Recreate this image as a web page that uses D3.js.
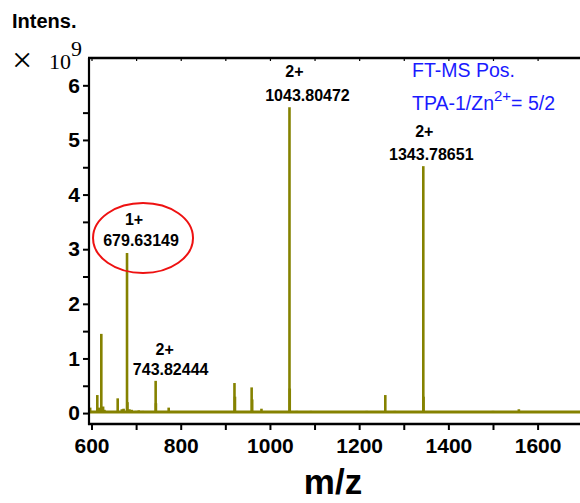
<!DOCTYPE html>
<html>
<head>
<meta charset="utf-8">
<script src="https://cdn.jsdelivr.net/npm/d3@7"></script>
<style>
  html, body { margin: 0; padding: 0; background: #fff; }
  svg { display: block; }
</style>
</head>
<body>
<svg id="chart" width="580" height="503"></svg>
<script>
// ---- data (intensity in units of 10^9) ----
const peakMz = [597, 613, 617, 622, 626, 629, 658.7, 668, 672, 679.63, 680.6, 685, 690, 700, 706, 715, 724, 743.82, 744.4, 752, 760, 773, 790, 828, 846, 866, 880, 900, 920.5, 921.6, 940, 959, 960.2, 981, 1043.8, 1044.4, 1060, 1092, 1130, 1180, 1217, 1258.6, 1280, 1300, 1343.79, 1344.3, 1380, 1420, 1460, 1500, 1515, 1558, 1600, 1650, 1690];
const peakIntensity = [0.1, 0.33, 0.1, 1.45, 0.12, 0.06, 0.27, 0.07, 0.08, 2.93, 0.2, 0.07, 0.06, 0.04, 0.05, 0.04, 0.03, 0.59, 0.18, 0.03, 0.03, 0.1, 0.03, 0.03, 0.03, 0.03, 0.03, 0.03, 0.55, 0.3, 0.03, 0.47, 0.25, 0.08, 5.6, 0.45, 0.04, 0.04, 0.03, 0.02, 0.04, 0.33, 0.04, 0.03, 4.52, 0.3, 0.03, 0.03, 0.02, 0.04, 0.03, 0.07, 0.02, 0.02, 0.03];
const baselineLevel = 0.02;

const xTickValues = [600, 800, 1000, 1200, 1400, 1600];
const xMinorTicks = [700, 900, 1100, 1300, 1500, 1700];
const yTickValues = [0, 1, 2, 3, 4, 5, 6];
const yMinorTicks = [0.5, 1.5, 2.5, 3.5, 4.5, 5.5];

const annotationCharge = ["1+", "2+", "2+", "2+"];
const annotationMz = ["679.63149", "743.82444", "1043.80472", "1343.78651"];
const annotationPeak = [679.63, 743.82, 1043.8, 1343.79];

// ---- chart ----
const svg = d3.select("#chart");
const W = 580, H = 503;
svg.append("rect").attr("width", W).attr("height", H).attr("fill", "#fff");

const x = d3.scaleLinear().domain([594.4, 1700]).range([89, 89 + (1700 - 594.4) * 0.4461]);
const y = d3.scaleLinear().domain([-0.2, 6.5]).range([424, 58]);

const plotLeft = 89, plotRight = 580, plotTop = 58, plotBottom = 424;

svg.append("clipPath").attr("id", "clip")
  .append("rect").attr("x", plotLeft).attr("y", plotTop)
  .attr("width", plotRight - plotLeft).attr("height", plotBottom - plotTop);

const olive = "#858200";
const g = svg.append("g").attr("clip-path", "url(#clip)");

// baseline
g.append("line")
  .attr("x1", x(594.4)).attr("x2", x(1700))
  .attr("y1", y(baselineLevel)).attr("y2", y(baselineLevel))
  .attr("stroke", olive).attr("stroke-width", 3);

// peaks (sticks)
g.selectAll("line.peak").data(peakMz.map((m, i) => ({ m, v: peakIntensity[i] })))
  .enter().append("line").attr("class", "peak")
  .attr("x1", d => x(d.m)).attr("x2", d => x(d.m))
  .attr("y1", y(baselineLevel)).attr("y2", d => y(d.v))
  .attr("stroke", olive).attr("stroke-width", 2.6);

// axes lines
const axisCol = "#000";
svg.append("line").attr("x1", plotLeft).attr("x2", plotLeft).attr("y1", plotTop).attr("y2", plotBottom + 1)
  .attr("stroke", axisCol).attr("stroke-width", 2.2);
svg.append("line").attr("x1", plotLeft - 1).attr("x2", W).attr("y1", plotTop).attr("y2", plotTop)
  .attr("stroke", axisCol).attr("stroke-width", 2.4);
svg.append("line").attr("x1", plotLeft - 1).attr("x2", W).attr("y1", plotBottom).attr("y2", plotBottom)
  .attr("stroke", axisCol).attr("stroke-width", 2.4);

const sans = "Liberation Sans, Arial, sans-serif";

// x axis (bottom)
const xAxis = d3.axisBottom(x).tickValues(xTickValues).tickSize(6).tickPadding(8).tickFormat(d3.format("d"));
const gx = svg.append("g").attr("transform", `translate(0,${plotBottom})`).call(xAxis);
gx.select(".domain").remove();
gx.selectAll(".tick line").attr("stroke", "#000").attr("stroke-width", 2);
gx.selectAll(".tick text").attr("font-family", sans)
  .attr("font-weight", "bold").attr("font-size", 21).attr("fill", "#000");
const gxm = svg.append("g").attr("transform", `translate(0,${plotBottom})`)
  .call(d3.axisBottom(x).tickValues(xMinorTicks).tickSize(6).tickFormat(""));
gxm.select(".domain").remove();
gxm.selectAll(".tick line").attr("stroke", "#000").attr("stroke-width", 2);

// top axis small inner ticks
const gt = svg.append("g").attr("transform", `translate(0,${plotTop})`)
  .call(d3.axisBottom(x).tickValues(xTickValues.concat(xMinorTicks)).tickSize(3).tickFormat(""));
gt.select(".domain").remove();
gt.selectAll(".tick line").attr("stroke", "#000").attr("stroke-width", 1.2);

// y axis (left)
const yAxis = d3.axisLeft(y).tickValues(yTickValues).tickSize(6).tickPadding(3).tickFormat(d3.format("d"));
const gy = svg.append("g").attr("transform", `translate(${plotLeft},0)`).call(yAxis);
gy.select(".domain").remove();
gy.selectAll(".tick line").attr("stroke", "#000").attr("stroke-width", 2);
gy.selectAll(".tick text").attr("font-family", sans)
  .attr("font-weight", "bold").attr("font-size", 21).attr("fill", "#000");
const gym = svg.append("g").attr("transform", `translate(${plotLeft},0)`)
  .call(d3.axisLeft(y).tickValues(yMinorTicks).tickSize(6).tickFormat(""));
gym.select(".domain").remove();
gym.selectAll(".tick line").attr("stroke", "#000").attr("stroke-width", 2);

// axis titles
svg.append("text").attr("x", 12).attr("y", 28).text("Intens.")
  .attr("font-family", sans).attr("font-weight", "bold").attr("font-size", 20);

svg.append("text").attr("x", 12).attr("y", 72).text("×")
  .attr("font-family", "Liberation Serif, Times New Roman, serif").attr("font-size", 36);
const tm = svg.append("text").attr("x", 49).attr("y", 69)
  .attr("font-family", "Liberation Serif, Times New Roman, serif").attr("font-size", 22);
tm.append("tspan").text("10");
tm.append("tspan").attr("dy", -13).text("9");

svg.append("text").attr("x", 333).attr("y", 494).attr("text-anchor", "middle").text("m/z")
  .attr("font-family", sans).attr("font-weight", "bold").attr("font-size", 35);

// peak annotations
const annOffsets = [
  { dxC: 7, yC: 225, dxM: 14, yM: 246 },
  { dxC: 9, yC: 355, dxM: 15, yM: 375 },
  { dxC: 5, yC: 77, dxM: 18, yM: 101 },
  { dxC: 1, yC: 137, dxM: 8, yM: 160 }
];
annotationPeak.forEach((p, i) => {
  const o = annOffsets[i];
  svg.append("text").attr("x", x(p) + o.dxC).attr("y", o.yC).attr("text-anchor", "middle")
    .text(annotationCharge[i])
    .attr("font-family", sans).attr("font-weight", "bold").attr("font-size", 16);
  svg.append("text").attr("x", x(p) + o.dxM).attr("y", o.yM).attr("text-anchor", "middle")
    .text(annotationMz[i])
    .attr("font-family", sans).attr("font-weight", "bold").attr("font-size", 16);
});

// red ellipse around 679 label
svg.append("ellipse").attr("cx", x(679.63) + 16).attr("cy", 238).attr("rx", 50).attr("ry", 35)
  .attr("fill", "none").attr("stroke", "#ee1111").attr("stroke-width", 2);

// legend text (blue)
const blue = "#1a1aff";
svg.append("text").attr("x", 412).attr("y", 77).text("FT-MS Pos.")
  .attr("font-family", sans).attr("font-size", 19.5).attr("fill", blue);
const t2 = svg.append("text").attr("x", 412).attr("y", 110)
  .attr("font-family", sans).attr("font-size", 19.5).attr("fill", blue);
t2.append("tspan").text("TPA-1/Zn");
t2.append("tspan").attr("dy", -9).attr("font-size", 15).text("2+");
t2.append("tspan").attr("dy", 9).text("= 5/2");
</script>
</body>
</html>
